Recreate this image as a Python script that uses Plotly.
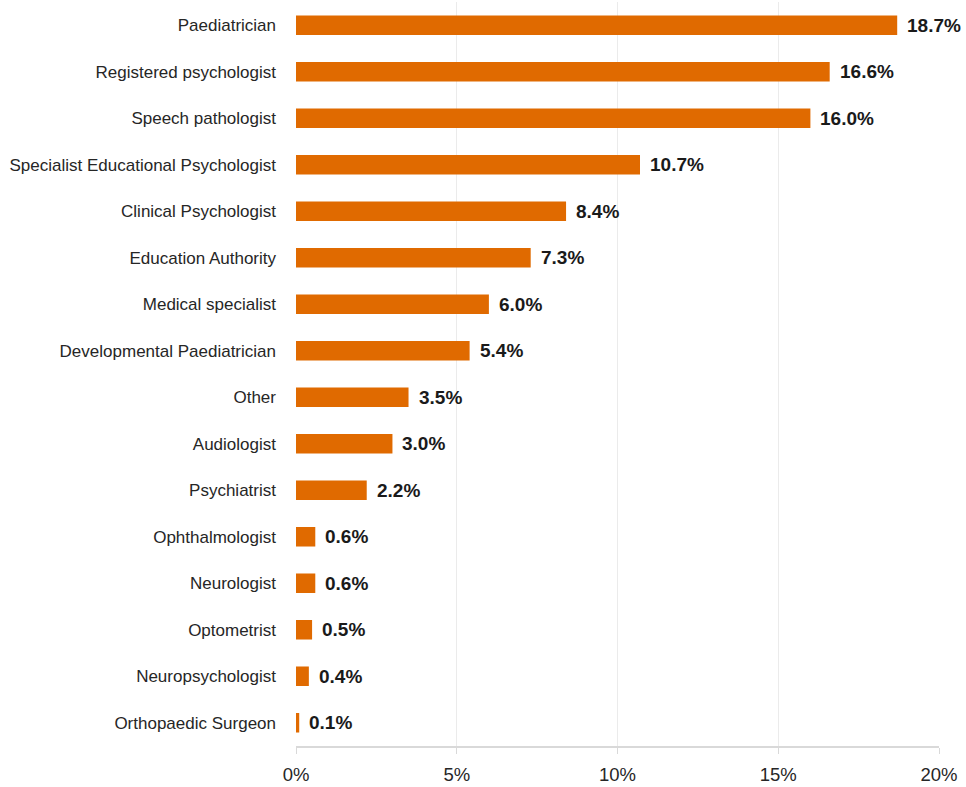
import plotly.graph_objects as go

categories = [
    "Paediatrician",
    "Registered psychologist",
    "Speech pathologist",
    "Specialist Educational Psychologist",
    "Clinical Psychologist",
    "Education Authority",
    "Medical specialist",
    "Developmental Paediatrician",
    "Other",
    "Audiologist",
    "Psychiatrist",
    "Ophthalmologist",
    "Neurologist",
    "Optometrist",
    "Neuropsychologist",
    "Orthopaedic Surgeon",
]
shares = [18.7, 16.6, 16.0, 10.7, 8.4, 7.3, 6.0, 5.4, 3.5, 3.0, 2.2, 0.6, 0.6, 0.5, 0.4, 0.1]
tick_vals = [0, 5, 10, 15, 20]
tick_text = ["0%", "5%", "10%", "15%", "20%"]

font = "Liberation Sans, Arial, sans-serif"

fig = go.Figure()
fig.add_trace(
    go.Bar(
        x=shares,
        y=categories,
        orientation="h",
        marker=dict(color="#E06A00", line=dict(width=0)),
        width=0.42,
        hoverinfo="x+y",
    )
)

for cat, val in zip(categories, shares):
    fig.add_annotation(
        x=val,
        y=cat,
        text=f"<b>{val:.1f}%</b>",
        showarrow=False,
        xanchor="left",
        xshift=8,
        font=dict(family=font, size=19, color="#1a1a1a"),
    )

fig.update_xaxes(
    range=[0, 20],
    tickvals=tick_vals,
    ticktext=tick_text,
    showgrid=True,
    gridcolor="#ebebeb",
    gridwidth=1,
    zeroline=False,
    showline=True,
    linecolor="#d9d9d9",
    linewidth=2,
    ticks="outside",
    tickcolor="#d9d9d9",
    ticklen=6,
    tickfont=dict(family=font, size=18.5, color="#262626"),
    ticklabelstandoff=5,
)
fig.update_yaxes(
    autorange="reversed",
    showgrid=False,
    showline=False,
    ticks="",
    tickfont=dict(family=font, size=17, color="#262626"),
    ticklabelstandoff=19,
)

fig.update_layout(
    width=966,
    height=787,
    margin=dict(l=296, r=27, t=2, b=41, autoexpand=False),
    plot_bgcolor="white",
    paper_bgcolor="white",
    showlegend=False,
)

fig.write_html(
    "out.html",
    config={"displayModeBar": False},
    post_script="document.body.style.margin='0';document.body.style.overflow='hidden';",
)
